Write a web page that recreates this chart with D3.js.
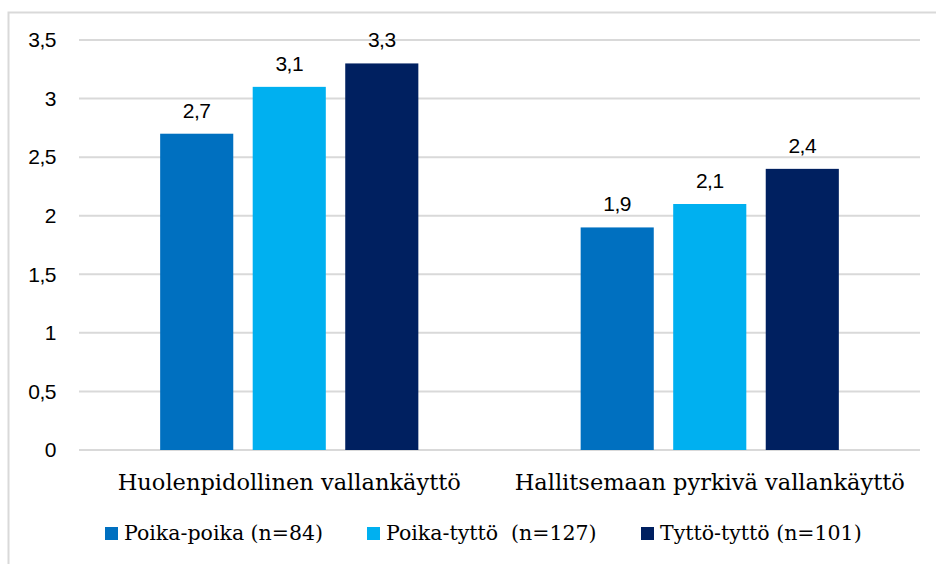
<!DOCTYPE html>
<html>
<head>
<meta charset="utf-8">
<script src="https://cdn.jsdelivr.net/npm/d3@7.9.0/dist/d3.min.js"></script>
<style>
  body { margin: 0; background: #fff; }
  svg { display: block; }
</style>
</head>
<body>
<svg id="chart" width="936" height="564"></svg>
<script>
// data
const categories = ["Huolenpidollinen vallankäyttö", "Hallitsemaan pyrkivä vallankäyttö"];
const seriesNames = ["Poika-poika (n=84)", "Poika-tyttö  (n=127)", "Tyttö-tyttö (n=101)"];
const poikaPoika = [2.7, 1.9];
const poikaTytto = [3.1, 2.1];
const tyttoTytto = [3.3, 2.4];
const yTicks = [0, 0.5, 1, 1.5, 2, 2.5, 3, 3.5];
const colors = ["#0070C0", "#00B0F0", "#002060"];

const seriesValues = [poikaPoika, poikaTytto, tyttoTytto];

const svg = d3.select("#chart");
const margin = { left: 79, right: 16, top: 40, bottom: 114 };
const W = 936, H = 564;

// outer frame (cut off at right/bottom like the source)
svg.append("rect")
  .attr("x", 8.5).attr("y", 12.5)
  .attr("width", 940).attr("height", 600)
  .attr("fill", "none")
  .attr("stroke", "#d9d9d9")
  .attr("stroke-width", 2);

const y = d3.scaleLinear().domain([0, 3.5]).range([H - margin.bottom, margin.top]);
const x0 = d3.scaleBand().domain(categories).range([margin.left, W - margin.right]).padding(0);
const x1 = d3.scaleBand().domain(d3.range(seriesNames.length))
  .range([x0.bandwidth() * 0.193, x0.bandwidth() * 0.807]).paddingInner(0.21);

// gridlines
svg.append("g").selectAll("line").data(yTicks).join("line")
  .attr("x1", margin.left).attr("x2", W - margin.right)
  .attr("y1", d => y(d)).attr("y2", d => y(d))
  .attr("stroke", "#d9d9d9").attr("stroke-width", 2);

const fmt = d => String(d).replace(".", ",");

// y axis labels
const yAxis = d3.axisLeft(y).tickValues(yTicks).tickSize(0).tickPadding(0).tickFormat(fmt);
svg.append("g")
  .attr("transform", `translate(56,0)`)
  .call(yAxis)
  .call(g => g.select(".domain").remove())
  .selectAll("text")
  .attr("font-family", "Liberation Sans, Arial, sans-serif")
  .attr("font-size", 21)
  .attr("letter-spacing", -0.5)
  .attr("fill", "#000");

// bars
const groups = svg.append("g").selectAll("g").data(categories).join("g")
  .attr("transform", d => `translate(${x0(d)},0)`);

groups.selectAll("rect")
  .data((c, ci) => seriesValues.map((s, si) => ({ si, v: s[ci] })))
  .join("rect")
  .attr("x", d => x1(d.si))
  .attr("width", x1.bandwidth())
  .attr("y", d => y(d.v))
  .attr("height", d => y(0) - y(d.v))
  .attr("fill", d => colors[d.si]);

groups.selectAll("text.val")
  .data((c, ci) => seriesValues.map((s, si) => ({ si, v: s[ci] })))
  .join("text")
  .attr("class", "val")
  .attr("x", d => x1(d.si) + x1.bandwidth() / 2)
  .attr("y", d => y(d.v) - 16)
  .attr("text-anchor", "middle")
  .attr("font-family", "Liberation Sans, Arial, sans-serif")
  .attr("font-size", 21)
  .attr("letter-spacing", -0.5)
  .attr("fill", "#000")
  .text(d => fmt(d.v));

// category labels
svg.append("g").selectAll("text").data(categories).join("text")
  .attr("x", d => x0(d) + x0.bandwidth() / 2)
  .attr("y", y(0) + 40)
  .attr("text-anchor", "middle")
  .attr("font-family", "DejaVu Serif, serif")
  .attr("font-size", 22.5)
  .attr("fill", "#000")
  .text(d => d);

// legend
const legendX = [105, 367, 641];
const legend = svg.append("g").selectAll("g").data(seriesNames).join("g")
  .attr("transform", (d, i) => `translate(${legendX[i]},527)`);
legend.append("rect")
  .attr("width", 13).attr("height", 13)
  .attr("fill", (d, i) => colors[i]);
legend.append("text")
  .attr("x", 19).attr("y", 13)
  .attr("font-family", "DejaVu Serif, serif")
  .attr("font-size", 20.5)
  .attr("fill", "#000")
  .attr("xml:space", "preserve")
  .text(d => d);
</script>
</body>
</html>
